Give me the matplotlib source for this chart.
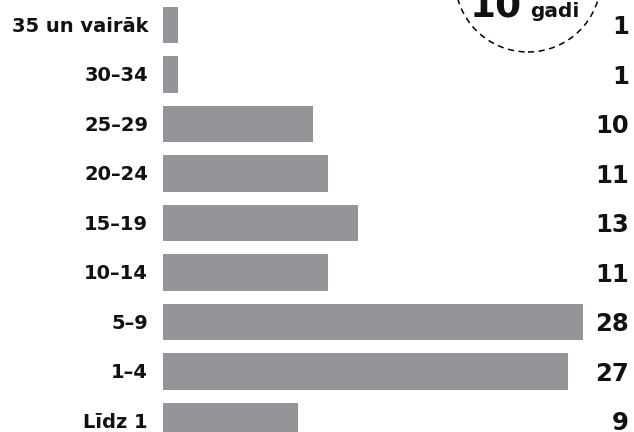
import matplotlib
matplotlib.use("Agg")
import matplotlib.pyplot as plt
from matplotlib.patches import Circle

# age groups, top to bottom
groups = ["35 un vairāk", "30–34", "25–29", "20–24", "15–19", "10–14", "5–9", "1–4", "Līdz 1"]
values = [1, 1, 10, 11, 13, 11, 28, 27, 9]

W, H = 634, 432
fig = plt.figure(figsize=(W / 100, H / 100), dpi=100)

# axes from the bar baseline to the right edge; 15 px per unit
ax = fig.add_axes([163 / W, 0, (W - 163) / W, 1])
ax.set_xlim(0, (W - 163) / 15)
step = 49.5
ax.set_ylim((H - 25) / step, -25 / step)
ax.axis("off")

ypos = list(range(len(groups)))
ax.barh(ypos, values, height=0.73, color="#939598", left=0)

for y, g, v in zip(ypos, groups, values):
    ax.text(-15 / 15, y + 0.03, g, ha="right", va="center",
            fontsize=14, fontweight="bold", color="#111111")
    ax.text((629 - 163) / 15, y + 0.05, str(v), ha="right", va="center",
            fontsize=17.5, fontweight="bold", color="#111111")

# dashed circle at top right
circ = Circle((528 / 100, (H + 21) / 100), 0.73, transform=fig.dpi_scale_trans,
              fill=False, ls=(0, (4, 3)), lw=1.1, color="black", clip_on=False)
fig.add_artist(circ)
fig.text(522 / W, 1 - 17 / H, "10", ha="right", va="baseline",
         fontsize=27, fontweight="bold", color="#111111")
fig.text(530 / W, 1 - 17 / H, "gadi", ha="left", va="baseline",
         fontsize=14.5, fontweight="bold", color="#111111")

fig.savefig("out.png", dpi=100)
